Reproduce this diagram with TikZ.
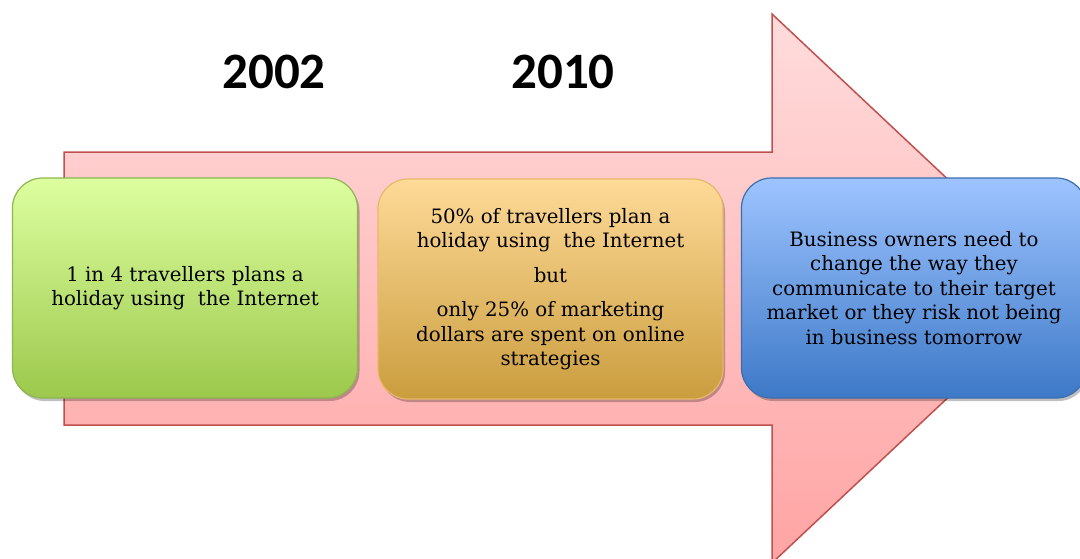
\documentclass[tikz,border=0pt]{standalone}
\usepackage{fontspec}
\setmainfont{DejaVu Serif}
\newfontfamily\yearfont{Carlito}
\usetikzlibrary{shadows}
\definecolor{arrowtop}{HTML}{FFDCDC}
\definecolor{arrowbot}{HTML}{FFA4A4}
\definecolor{arrowline}{HTML}{C0504D}
\definecolor{greentop}{HTML}{DDFFA0}
\definecolor{greenbot}{HTML}{9CC84C}
\definecolor{greenline}{HTML}{8DB552}
\definecolor{orangetop}{HTML}{FEDA98}
\definecolor{orangebot}{HTML}{CA9D3E}
\definecolor{orangeline}{HTML}{E8B86A}
\definecolor{bluetop}{HTML}{9EC4FF}
\definecolor{bluebot}{HTML}{3D79C7}
\definecolor{blueline}{HTML}{3C6EAE}
\tikzset{
  infobox/.style={rounded corners=30pt, line width=1.2pt, minimum width=345pt,
    minimum height=220pt, align=center, inner sep=0pt,
    font=\fontsize{19.8}{24.5}\selectfont,
    drop shadow={shadow xshift=2pt, shadow yshift=-3pt, opacity=0.25, fill=black}},
  yearlabel/.style={font=\yearfont\bfseries\fontsize{51}{56}\selectfont, inner sep=0pt}
}
\begin{document}
\begin{tikzpicture}[x=1pt,y=-1pt]
\useasboundingbox (0,0) rectangle (1080,558);
\path[clip] (0,0) rectangle (1080,558);
% big arrow
\draw[arrowline, line width=1.5pt, top color=arrowtop, bottom color=arrowbot]
  (64,152) -- (772,152) -- (772,14) -- (1064,288.5) -- (772,563) -- (772,425) -- (64,425) -- cycle;
% years
\node[yearlabel] (y2002) at (274,72) {2002};
\node[yearlabel] (y2010) at (563,72) {2010};
% boxes
\node[infobox, draw=greenline, top color=greentop, bottom color=greenbot] (b1) at (185,288)
  {1 in 4 travellers plans a\\holiday using\ \ the Internet};
\node[infobox, draw=orangeline, top color=orangetop, bottom color=orangebot] (b2) at (550.5,289)
  {50\% of travellers plan a\\holiday using\ \ the Internet\\[10pt]but\\[10pt]only 25\% of marketing\\dollars are spent on online\\strategies};
\node[infobox, draw=blueline, top color=bluetop, bottom color=bluebot] (b3) at (914,288)
  {Business owners need to\\change the way they\\communicate to their target\\market or they risk not being\\in business tomorrow};
\end{tikzpicture}
\end{document}
